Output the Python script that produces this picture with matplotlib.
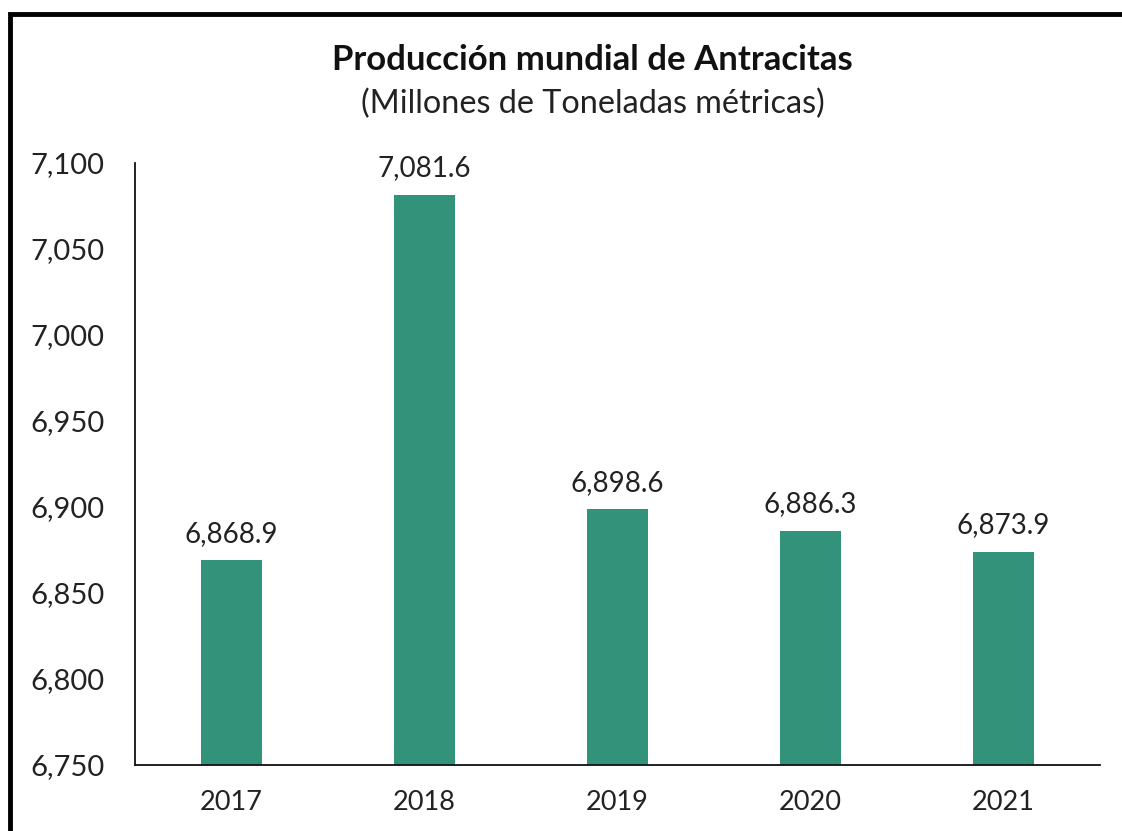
import matplotlib.pyplot as plt
from matplotlib.patches import Rectangle
from matplotlib.ticker import FuncFormatter

years = ['2017', '2018', '2019', '2020', '2021']
produccion = [6868.9, 7081.6, 6898.6, 6886.3, 6873.9]
yticks = [6750, 6800, 6850, 6900, 6950, 7000, 7050, 7100]

plt.rcParams['font.family'] = ['Lato', 'DejaVu Sans']

fig = plt.figure(figsize=(11.22, 8.31), dpi=100)
ax = fig.add_axes([135 / 1122, 1 - 765 / 831, 965 / 1122, 602 / 831])

x = range(len(years))
ax.bar(x, [v - 6750 for v in produccion], bottom=6750, width=0.32, color='#33937a')
for i, v in zip(x, produccion):
    ax.text(i, v + 8, f'{v:,.1f}', ha='center', va='bottom', fontsize=20, color='#222222')

ax.set_xlim(-0.5, 4.5)
ax.set_ylim(6750, 7100)
ax.set_yticks(yticks)
ax.yaxis.set_major_formatter(FuncFormatter(lambda v, p: f'{v:,.0f}'))
ax.set_xticks(list(x))
ax.set_xticklabels(years)
ax.tick_params(axis='both', length=0, colors='#222222')
ax.tick_params(axis='x', pad=18, labelsize=19.5)
ax.tick_params(axis='y', pad=22, labelsize=21)
for s in ['top', 'right']:
    ax.spines[s].set_visible(False)
for s in ['left', 'bottom']:
    ax.spines[s].set_linewidth(1.3)
    ax.spines[s].set_color('#111111')

fig.text(0.528, 1 - 60 / 831, 'Producción mundial de Antracitas', ha='center', va='center',
         fontsize=25, fontweight='bold', color='#111111')
fig.text(0.528, 1 - 104 / 831, '(Millones de Toneladas métricas)', ha='center', va='center',
         fontsize=23.3, color='#222222')

fig.patches.append(Rectangle((10 / 1122, -0.05), 1.1, 1 - 14 / 831 + 0.05,
                             transform=fig.transFigure, fill=False, edgecolor='black',
                             linewidth=3.5))

fig.savefig('out.png', dpi=100)
